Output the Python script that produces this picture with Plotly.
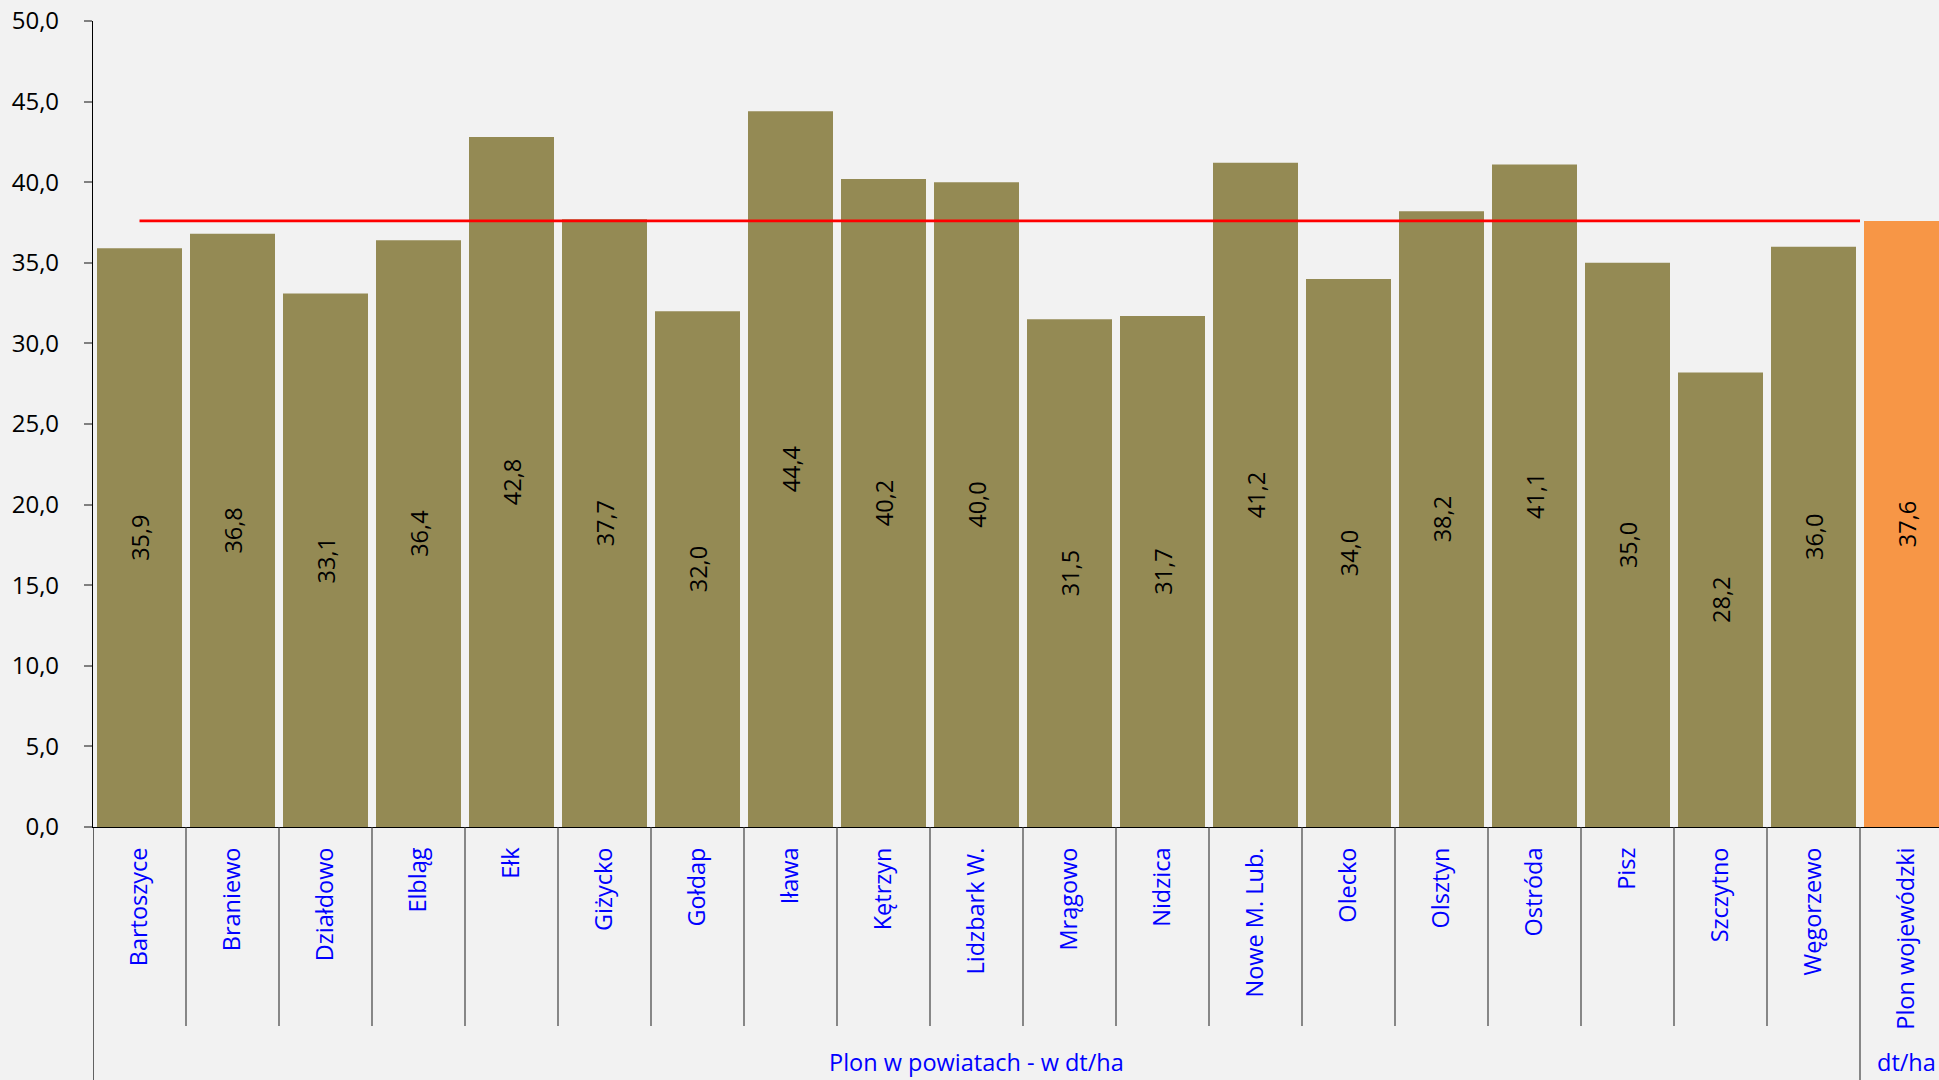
import plotly.graph_objects as go

districts = ["Bartoszyce", "Braniewo", "Działdowo", "Elbląg", "Ełk", "Giżycko", "Gołdap",
             "Iława", "Kętrzyn", "Lidzbark W.", "Mrągowo", "Nidzica", "Nowe M. Lub.",
             "Olecko", "Olsztyn", "Ostróda", "Pisz", "Szczytno", "Węgorzewo"]
district_yield = [35.9, 36.8, 33.1, 36.4, 42.8, 37.7, 32.0, 44.4, 40.2, 40.0,
                  31.5, 31.7, 41.2, 34.0, 38.2, 41.1, 35.0, 28.2, 36.0]
province_label = "Plon wojewódzki"
province_yield = 37.6
group_labels = ["Plon w powiatach - w dt/ha", "dt/ha"]
y_ticks = [0, 5, 10, 15, 20, 25, 30, 35, 40, 45, 50]

categories = districts + [province_label]
values = district_yield + [province_yield]
n = len(districts)
xpos = list(range(len(categories)))

OLIVE = "#948A54"
ORANGE = "#F79646"
BG = "#F2F2F2"
FONT = "Open Sans"

W, H = 1939, 1080
ML, MT, MB = 93, 21, 253
cat_px = 93.0
x_lo = -0.5
x_hi = x_lo + (W - ML) / cat_px
plot_h = H - MT - MB

fig = go.Figure()
fig.add_trace(go.Bar(
    x=xpos, y=values,
    marker=dict(color=[OLIVE] * n + [ORANGE], line=dict(width=0)),
    width=0.914,
    text=values, texttemplate="%{y:.1f}", textposition="inside",
    insidetextanchor="middle", textangle=-90, constraintext="none",
    textfont=dict(family=FONT, size=23.5, color="#000000"),
    hoverinfo="skip", showlegend=False,
))
fig.add_trace(go.Scatter(
    x=[0, n - 0.5], y=[province_yield, province_yield], mode="lines",
    line=dict(color="#FF0000", width=2.8), hoverinfo="skip", showlegend=False,
))

def py(px):
    return (H - MB - px) / plot_h

shapes = []
for i in range(n):
    b = i + 0.5
    bottom = py(1026) if i < n - 1 else py(1085)
    shapes.append(dict(type="line", xref="x", yref="paper", x0=b, x1=b, y0=0, y1=bottom,
                       line=dict(color="#404040", width=1.2)))
shapes.append(dict(type="line", xref="x", yref="paper", x0=x_lo, x1=x_lo, y0=0, y1=py(1085),
                   line=dict(color="#000000", width=1.2)))

annotations = [
    dict(text=group_labels[0], x=(x_lo + n - 0.5) / 2, xref="x", y=py(1062), yref="paper",
         showarrow=False, font=dict(family=FONT, size=23.5, color="#0000FF"),
         xanchor="center", yanchor="middle"),
    dict(text=group_labels[1], x=n, xref="x", y=py(1062), yref="paper",
         showarrow=False, font=dict(family=FONT, size=23.5, color="#0000FF"),
         xanchor="center", yanchor="middle"),
]

fig.update_layout(
    width=W, height=H,
    margin=dict(l=ML, r=0, t=MT, b=MB, pad=0),
    paper_bgcolor=BG, plot_bgcolor=BG,
    separators=", ",
    bargap=0.086,
    shapes=shapes, annotations=annotations,
    xaxis=dict(
        range=[x_lo, x_hi], tickmode="array", tickvals=xpos, ticktext=categories,
        tickangle=-90, ticks="", showgrid=False, zeroline=False,
        showline=True, linecolor="#000000", linewidth=1.2,
        tickfont=dict(family=FONT, size=23.5, color="#0000FF"),
        ticklabelstandoff=10, automargin=False,
    ),
    yaxis=dict(
        range=[0, 50], tickmode="array", tickvals=y_ticks, tickformat=".1f",
        ticks="outside", ticklen=8, tickcolor="#808080", tickwidth=1.5,
        showgrid=False, zeroline=False,
        showline=True, linecolor="#000000", linewidth=1.2,
        tickfont=dict(family=FONT, size=24, color="#000000"),
        ticklabelstandoff=20, automargin=False,
    ),
)

fig.write_html(
    "out.html",
    config={"displayModeBar": False},
    post_script="document.body.style.margin='0';document.body.style.overflow='hidden';"
                "document.body.style.background='#F2F2F2';",
)
